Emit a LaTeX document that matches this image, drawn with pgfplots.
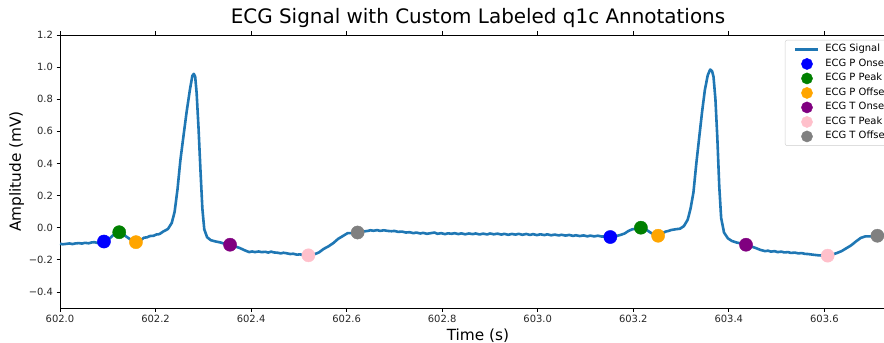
\documentclass[border=0pt]{standalone}
\usepackage{pgfplots}
\pgfplotsset{compat=1.18}
\usepackage{fontspec}
\setmainfont{DejaVu Sans}
\definecolor{tabblue}{HTML}{1F77B4}
\definecolor{mplgreen}{RGB}{0,128,0}
\definecolor{mplorange}{RGB}{255,165,0}
\definecolor{mplpurple}{RGB}{128,0,128}
\definecolor{mplpink}{RGB}{255,192,203}
\definecolor{mplgray}{RGB}{128,128,128}
\pgfplotsset{
  annot/.style={only marks, mark=*, mark size=6.6bp, color=#1, fill=#1,
    legend image code/.code={\fill[#1] (11.5bp,0bp) circle (5.6bp);}},
}
\begin{document}
\begin{tikzpicture}
\begin{axis}[
  scale only axis,
  width=836bp, height=273bp,
  xmin=602, xmax=603.75,
  ymin=-0.5, ymax=1.2,
  axis line style={line width=0.8bp},
  tick align=outside,
  major tick length=3.5bp,
  tick style={line width=0.8bp, black},
  xtick={602.0,602.2,602.4,602.6,602.8,603.0,603.2,603.4,603.6},
  xticklabels={602.0,602.2,602.4,602.6,602.8,603.0,603.2,603.4,603.6},
  ytick={-0.4,-0.2,0,0.2,0.4,0.6,0.8,1.0,1.2},
  yticklabels={−0.4,−0.2,0.0,0.2,0.4,0.6,0.8,1.0,1.2},
  ticklabel style={font=\fontsize{10}{12}\selectfont, text=black!85},
  title={ECG Signal with Custom Labeled q1c Annotations},
  title style={at={(axis description cs:0.5,1.022)}, anchor=base, font=\fontsize{20}{24}\selectfont},
  xlabel={Time (s)},
  xlabel style={at={(axis description cs:0.5,-0.118)}, anchor=base, font=\fontsize{15.4}{18}\selectfont},
  ylabel={Amplitude (mV)},
  ylabel style={at={(axis description cs:-0.0518,0.5)}, anchor=center, font=\fontsize{15.4}{18}\selectfont},
  legend style={at={(axis description cs:0.8672,0.9817)}, anchor=north west,
    draw=black!20, rounded corners=2bp, font=\fontsize{10}{12}\selectfont,
    inner xsep=9bp, inner ysep=2bp, row sep=0bp,
    nodes={inner sep=2.5bp, text height=7.3bp, text depth=2.2bp},
    /tikz/every odd column/.append style={column sep=3bp}},
  legend cell align=left,
]
\addplot[tabblue, line width=2.6bp, line join=round,
  legend image code/.code={\draw[tabblue, line width=2.6bp] (0bp,0bp) -- (23bp,0bp);}]
table[row sep=\\]{
x y\\
602.000 -0.100\\
602.006 -0.103\\
602.012 -0.101\\
602.020 -0.098\\
602.026 -0.102\\
602.032 -0.098\\
602.040 -0.096\\
602.046 -0.099\\
602.052 -0.094\\
602.060 -0.097\\
602.066 -0.092\\
602.072 -0.090\\
602.080 -0.096\\
602.086 -0.092\\
602.092 -0.086\\
602.100 -0.078\\
602.110 -0.050\\
602.118 -0.032\\
602.124 -0.028\\
602.132 -0.040\\
602.140 -0.058\\
602.150 -0.078\\
602.159 -0.090\\
602.168 -0.080\\
602.176 -0.062\\
602.182 -0.060\\
602.188 -0.052\\
602.196 -0.050\\
602.202 -0.042\\
602.208 -0.040\\
602.216 -0.024\\
602.226 -0.008\\
602.234 0.030\\
602.240 0.100\\
602.246 0.240\\
602.252 0.420\\
602.258 0.560\\
602.265 0.720\\
602.272 0.860\\
602.277 0.945\\
602.280 0.958\\
602.283 0.940\\
602.286 0.840\\
602.290 0.620\\
602.294 0.360\\
602.298 0.120\\
602.302 -0.010\\
602.308 -0.060\\
602.316 -0.078\\
602.326 -0.086\\
602.336 -0.092\\
602.345 -0.100\\
602.356 -0.106\\
602.366 -0.116\\
602.376 -0.126\\
602.386 -0.140\\
602.396 -0.152\\
602.402 -0.148\\
602.408 -0.152\\
602.416 -0.148\\
602.422 -0.152\\
602.430 -0.150\\
602.436 -0.155\\
602.442 -0.149\\
602.448 -0.154\\
602.456 -0.156\\
602.462 -0.160\\
602.468 -0.156\\
602.476 -0.160\\
602.482 -0.164\\
602.488 -0.162\\
602.496 -0.168\\
602.502 -0.166\\
602.508 -0.170\\
602.520 -0.172\\
602.532 -0.166\\
602.542 -0.154\\
602.552 -0.132\\
602.562 -0.116\\
602.572 -0.096\\
602.582 -0.070\\
602.592 -0.052\\
602.602 -0.034\\
602.612 -0.034\\
602.623 -0.030\\
602.634 -0.024\\
602.644 -0.020\\
602.650 -0.016\\
602.656 -0.019\\
602.664 -0.015\\
602.670 -0.020\\
602.678 -0.016\\
602.686 -0.020\\
602.694 -0.022\\
602.700 -0.020\\
602.708 -0.026\\
602.716 -0.024\\
602.724 -0.030\\
602.732 -0.028\\
602.740 -0.034\\
602.746 -0.030\\
602.754 -0.036\\
602.760 -0.032\\
602.768 -0.038\\
602.776 -0.034\\
602.784 -0.030\\
602.790 -0.038\\
602.798 -0.034\\
602.806 -0.040\\
602.812 -0.035\\
602.820 -0.038\\
602.826 -0.034\\
602.834 -0.040\\
602.840 -0.035\\
602.848 -0.041\\
602.856 -0.036\\
602.864 -0.040\\
602.870 -0.036\\
602.878 -0.042\\
602.886 -0.037\\
602.894 -0.042\\
602.900 -0.036\\
602.908 -0.041\\
602.916 -0.037\\
602.924 -0.043\\
602.930 -0.038\\
602.938 -0.044\\
602.946 -0.039\\
602.954 -0.043\\
602.960 -0.038\\
602.968 -0.044\\
602.976 -0.039\\
602.984 -0.045\\
602.990 -0.040\\
602.998 -0.046\\
603.006 -0.041\\
603.014 -0.046\\
603.020 -0.041\\
603.028 -0.047\\
603.036 -0.043\\
603.044 -0.048\\
603.050 -0.044\\
603.058 -0.049\\
603.066 -0.045\\
603.074 -0.051\\
603.080 -0.047\\
603.088 -0.052\\
603.096 -0.048\\
603.104 -0.054\\
603.110 -0.049\\
603.118 -0.054\\
603.126 -0.050\\
603.134 -0.055\\
603.142 -0.054\\
603.152 -0.058\\
603.162 -0.054\\
603.172 -0.046\\
603.182 -0.036\\
603.190 -0.020\\
603.198 -0.010\\
603.206 -0.006\\
603.216 0.000\\
603.226 -0.010\\
603.236 -0.030\\
603.244 -0.044\\
603.252 -0.050\\
603.260 -0.036\\
603.268 -0.024\\
603.274 -0.020\\
603.280 -0.014\\
603.288 -0.010\\
603.298 -0.006\\
603.306 0.010\\
603.314 0.050\\
603.320 0.120\\
603.326 0.220\\
603.332 0.400\\
603.338 0.560\\
603.344 0.720\\
603.350 0.860\\
603.356 0.950\\
603.361 0.985\\
603.365 0.975\\
603.368 0.940\\
603.372 0.800\\
603.376 0.560\\
603.380 0.260\\
603.384 0.060\\
603.390 -0.030\\
603.398 -0.066\\
603.406 -0.082\\
603.416 -0.092\\
603.426 -0.098\\
603.436 -0.106\\
603.446 -0.116\\
603.456 -0.126\\
603.466 -0.138\\
603.476 -0.146\\
603.482 -0.143\\
603.488 -0.149\\
603.496 -0.146\\
603.502 -0.152\\
603.510 -0.149\\
603.516 -0.154\\
603.524 -0.152\\
603.530 -0.157\\
603.538 -0.155\\
603.546 -0.160\\
603.552 -0.158\\
603.560 -0.163\\
603.566 -0.164\\
603.576 -0.168\\
603.588 -0.172\\
603.600 -0.174\\
603.607 -0.174\\
603.616 -0.168\\
603.626 -0.158\\
603.636 -0.146\\
603.646 -0.128\\
603.656 -0.110\\
603.666 -0.086\\
603.676 -0.064\\
603.686 -0.054\\
603.696 -0.054\\
603.711 -0.050\\
603.722 -0.046\\
603.734 -0.044\\
603.746 -0.042\\
};
\addlegendentry{ECG Signal}
\addplot[annot=blue] coordinates {(602.092,-0.086) (603.152,-0.058)};
\addlegendentry{ECG P Onset}
\addplot[annot=mplgreen] coordinates {(602.124,-0.028) (603.216,0.000)};
\addlegendentry{ECG P Peak}
\addplot[annot=mplorange] coordinates {(602.159,-0.090) (603.252,-0.050)};
\addlegendentry{ECG P Offset}
\addplot[annot=mplpurple] coordinates {(602.356,-0.106) (603.436,-0.106)};
\addlegendentry{ECG T Onset}
\addplot[annot=mplpink] coordinates {(602.520,-0.172) (603.607,-0.174)};
\addlegendentry{ECG T Peak}
\addplot[annot=mplgray] coordinates {(602.623,-0.030) (603.711,-0.050)};
\addlegendentry{ECG T Offset}
\end{axis}
\pgfresetboundingbox
\useasboundingbox (-60bp,-35bp) rectangle (824bp,308bp);
\end{tikzpicture}
\end{document}
